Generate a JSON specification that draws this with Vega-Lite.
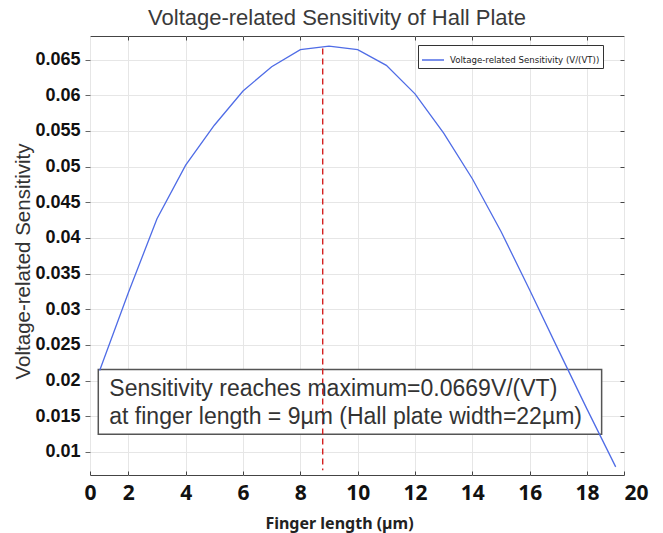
{
  "$schema": "https://vega.github.io/schema/vega-lite/v6.json",
  "width": 534,
  "height": 439,
  "autosize": {"type": "none"},
  "padding": {"left": 90, "top": 36, "right": 39, "bottom": 58},
  "background": "white",
  "config": {"view": {"stroke": "#444", "strokeWidth": 1}, "font": "Liberation Sans"},
  "title": {"text": "Voltage-related Sensitivity of Hall Plate", "fontSize": 22, "font": "Liberation Sans", "fontWeight": "normal", "color": "#3a3a3a", "anchor": "middle", "dx": -20, "offset": 6},
  "datasets": {
    "curve": [
      {"length": 1, "sens": 0.0214, "series": "Voltage-related Sensitivity (V/(VT))"},
      {"length": 2, "sens": 0.0323, "series": "Voltage-related Sensitivity (V/(VT))"},
      {"length": 3, "sens": 0.0427, "series": "Voltage-related Sensitivity (V/(VT))"},
      {"length": 4, "sens": 0.0502, "series": "Voltage-related Sensitivity (V/(VT))"},
      {"length": 5, "sens": 0.0558, "series": "Voltage-related Sensitivity (V/(VT))"},
      {"length": 6, "sens": 0.0606, "series": "Voltage-related Sensitivity (V/(VT))"},
      {"length": 7, "sens": 0.0640, "series": "Voltage-related Sensitivity (V/(VT))"},
      {"length": 8, "sens": 0.0664, "series": "Voltage-related Sensitivity (V/(VT))"},
      {"length": 9, "sens": 0.0669, "series": "Voltage-related Sensitivity (V/(VT))"},
      {"length": 10, "sens": 0.0664, "series": "Voltage-related Sensitivity (V/(VT))"},
      {"length": 11, "sens": 0.0642, "series": "Voltage-related Sensitivity (V/(VT))"},
      {"length": 12, "sens": 0.0602, "series": "Voltage-related Sensitivity (V/(VT))"},
      {"length": 13, "sens": 0.0547, "series": "Voltage-related Sensitivity (V/(VT))"},
      {"length": 14, "sens": 0.0483, "series": "Voltage-related Sensitivity (V/(VT))"},
      {"length": 15, "sens": 0.0409, "series": "Voltage-related Sensitivity (V/(VT))"},
      {"length": 16, "sens": 0.0327, "series": "Voltage-related Sensitivity (V/(VT))"},
      {"length": 17, "sens": 0.0243, "series": "Voltage-related Sensitivity (V/(VT))"},
      {"length": 18, "sens": 0.0160, "series": "Voltage-related Sensitivity (V/(VT))"},
      {"length": 19, "sens": 0.0079, "series": "Voltage-related Sensitivity (V/(VT))"}
    ],
    "box": [{"x1": 0.952, "x2": 18.51, "y1": 0.02154, "y2": 0.01247}],
    "marker": [{"length": 8.78, "top": 0.06654, "bottom": 0.00742}],
    "notes": [
      {"length": 1.336, "sens": 0.01779, "text": "Sensitivity reaches maximum=0.0669V/(VT)"},
      {"length": 1.336, "sens": 0.01397, "text": "at finger length = 9µm (Hall plate width=22µm)"}
    ]
  },
  "resolve": {"axis": {"x": "independent", "y": "independent"}},
  "layer": [
    {
      "data": {"name": "box"},
      "mark": {"type": "rect", "fill": "white", "stroke": "#555", "strokeWidth": 1.5},
      "encoding": {
        "x": {"field": "x1", "type": "quantitative", "scale": {"domain": [0.663, 19.29], "nice": false, "zero": false},
              "axis": {"orient": "top", "values": [2, 4, 6, 8, 10, 12, 14, 16, 18], "labels": false, "grid": false, "domain": false, "tickSize": -4, "tickColor": "#444", "title": null}},
        "x2": {"field": "x2"},
        "y": {"field": "y1", "type": "quantitative", "scale": {"domain": [0.00676, 0.06831], "nice": false, "zero": false},
              "axis": {"orient": "right", "values": [0.01, 0.015, 0.02, 0.025, 0.03, 0.035, 0.04, 0.045, 0.05, 0.055, 0.06, 0.065], "labels": false, "grid": false, "domain": false, "tickSize": -4, "tickColor": "#444", "title": null}},
        "y2": {"field": "y2"}
      }
    },
    {
      "data": {"name": "curve"},
      "mark": {"type": "line", "strokeWidth": 1.3},
      "encoding": {
        "x": {"field": "length", "type": "quantitative", "scale": {"domain": [0.663, 19.29], "nice": false, "zero": false},
              "axis": {"orient": "bottom", "values": [0.663, 2, 4, 6, 8, 10, 12, 14, 16, 18, 19.29],
                       "labelExpr": "datum.value < 1 ? '0' : datum.value > 19 ? '20' : datum.label",
                       "labelAlign": {"condition": {"test": "datum.value > 19", "value": "left"}, "value": "center"},
                       "labelOverlap": false, "grid": true, "gridColor": "#e6e6e6", "domain": false,
                       "tickSize": -4, "tickColor": "#444",
                       "labelFont": "Noto Sans", "labelFontWeight": "bold", "labelFontSize": 21, "labelColor": "#111", "labelPadding": 11,
                       "title": "Finger length (µm)", "titleFont": "Noto Sans", "titleFontSize": 16, "titleFontWeight": "bold", "titleColor": "#222",
                       "titleX": 249, "titleY": 48, "titleBaseline": "middle", "titleAnchor": null}},
        "y": {"field": "sens", "type": "quantitative", "scale": {"domain": [0.00676, 0.06831], "nice": false, "zero": false},
              "axis": {"orient": "left", "values": [0.01, 0.015, 0.02, 0.025, 0.03, 0.035, 0.04, 0.045, 0.05, 0.055, 0.06, 0.065],
                       "format": "~g", "labelOverlap": false, "grid": true, "gridColor": "#e6e6e6", "domain": false,
                       "tickSize": 5, "tickColor": "#666",
                       "labelFont": "Liberation Sans", "labelFontWeight": "bold", "labelFontSize": 18, "labelColor": "#111", "labelPadding": 5,
                       "title": "Voltage-related Sensitivity", "titleFont": "Liberation Sans", "titleFontSize": 20.5, "titleFontWeight": "normal", "titleColor": "#333",
                       "titleX": -67, "titleY": 225, "titleBaseline": "middle", "titleAlign": "center", "titleAngle": -90}},
        "color": {"field": "series", "type": "nominal", "scale": {"range": ["#4f6ce6"]},
                  "legend": {"orient": "none", "legendX": 328, "legendY": 9, "title": null, "symbolType": "stroke", "symbolSize": 484, "symbolStrokeWidth": 1.5,
                             "labelFont": "DejaVu Sans", "labelFontSize": 8.6, "labelColor": "#222", "strokeColor": "#333", "fillColor": "white", "padding": 3, "labelOffset": 5, "cornerRadius": 0}}
      }
    },
    {
      "data": {"name": "marker"},
      "mark": {"type": "rule", "color": "#d42020", "strokeWidth": 1.4, "strokeDash": [6, 4]},
      "encoding": {
        "x": {"field": "length", "type": "quantitative", "scale": {"domain": [0.663, 19.29], "nice": false, "zero": false}, "axis": null},
        "y": {"field": "top", "type": "quantitative", "scale": {"domain": [0.00676, 0.06831], "nice": false, "zero": false}, "axis": null},
        "y2": {"field": "bottom"}
      }
    },
    {
      "data": {"name": "notes"},
      "mark": {"type": "text", "align": "left", "baseline": "alphabetic", "font": "Liberation Sans", "fontSize": 23, "color": "#333"},
      "encoding": {
        "x": {"field": "length", "type": "quantitative", "scale": {"domain": [0.663, 19.29], "nice": false, "zero": false}, "axis": null},
        "y": {"field": "sens", "type": "quantitative", "scale": {"domain": [0.00676, 0.06831], "nice": false, "zero": false}, "axis": null},
        "text": {"field": "text"}
      }
    }
  ]
}
